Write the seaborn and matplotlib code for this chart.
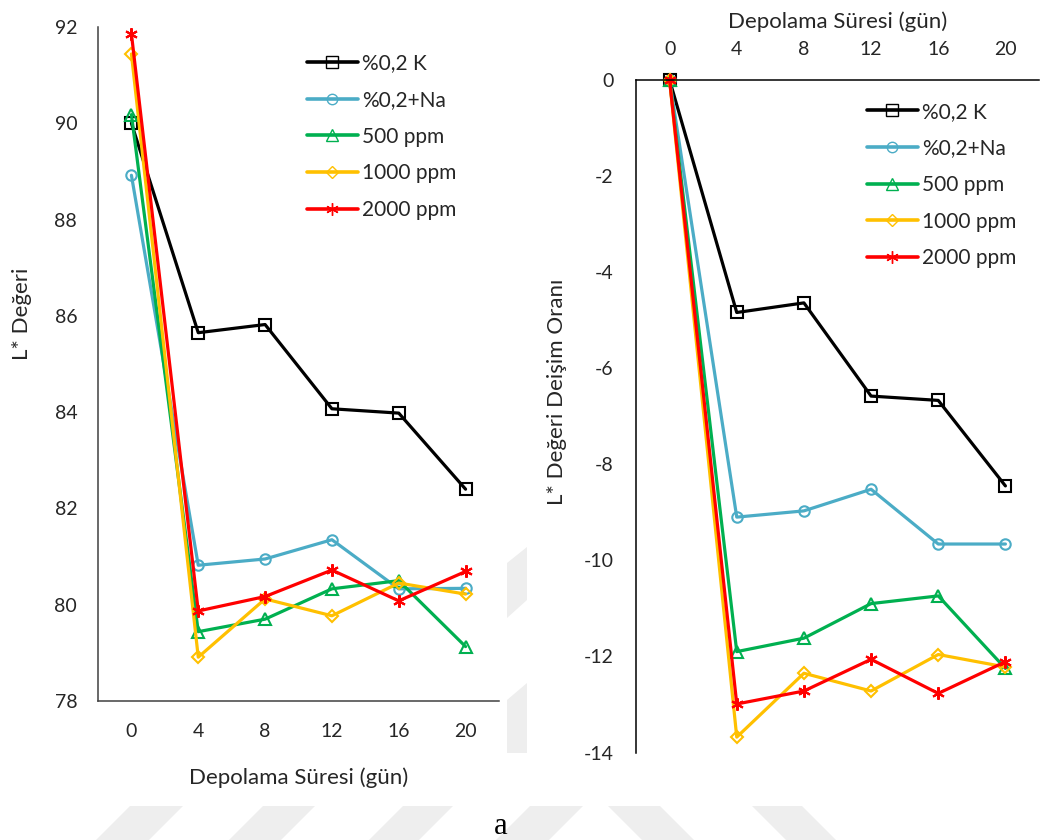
import matplotlib
matplotlib.use("Agg")
import matplotlib.pyplot as plt
from matplotlib.patches import Polygon
from matplotlib.lines import Line2D
import seaborn as sns

# Storage time (days)
days = [0, 4, 8, 12, 16, 20]
series_names = ["%0,2 K", "%0,2+Na", "500 ppm", "1000 ppm", "2000 ppm"]

# L* values
l_k = [90.0, 85.65, 85.82, 84.07, 83.98, 82.40]
l_na = [88.92, 80.82, 80.95, 81.35, 80.33, 80.34]
l_500 = [90.18, 79.44, 79.70, 80.33, 80.50, 79.13]
l_1000 = [91.44, 78.91, 80.12, 79.77, 80.45, 80.22]
l_2000 = [91.86, 79.87, 80.17, 80.72, 80.08, 80.69]

# Change ratio of L* values (%)
d_k = [0.0, -4.84, -4.64, -6.58, -6.67, -8.45]
d_na = [0.0, -9.10, -8.97, -8.52, -9.66, -9.66]
d_500 = [0.0, -11.90, -11.62, -10.90, -10.74, -12.25]
d_1000 = [0.0, -13.68, -12.35, -12.72, -11.96, -12.22]
d_2000 = [0.0, -12.99, -12.72, -12.06, -12.77, -12.11]

colors = ["#000000", "#4bacc6", "#00b050", "#ffc000", "#ff0000"]
markers = ["s", "o", "^", "D", (6, 2, 0)]
msizes = [8, 7.5, 8, 6.2, 9]

sns.set_style("white")
plt.rcParams["font.family"] = ["Lato", "DejaVu Sans"]
plt.rcParams["axes.unicode_minus"] = False
text_color = "#262626"

fig = plt.figure(figsize=(10.42, 8.4), dpi=100)
W, H = 1042, 840

# faint background stripes
stripe_color = "#eeeeee"
for x0, x1, lean in [(130, 183, -1), (263, 315, -1), (403, 453, -1),
                     (530, 583, -1), (608, 660, 1), (752, 802, 1)]:
    top, bot = 806, 840
    dx = 34 * lean
    pts = [(x0, H - top), (x1, H - top), (x1 + dx, H - bot), (x0 + dx, H - bot)]
    fig.add_artist(Polygon(pts, closed=True, transform=None,
                           facecolor=stripe_color, edgecolor="none", zorder=0))
for pts in [[(507, H - 563), (527, H - 547), (527, H - 600), (507, H - 618)],
            [(507, H - 700), (527, H - 683), (527, H - 753), (507, H - 753)]]:
    fig.add_artist(Polygon(pts, closed=True, transform=None,
                           facecolor=stripe_color, edgecolor="none", zorder=0))

ax1 = fig.add_axes([98 / W, 1 - 701 / H, 401 / W, 674 / H])
ax2 = fig.add_axes([636 / W, 1 - 752.5 / H, 403 / W, 672.5 / H])
for ax in (ax1, ax2):
    ax.set_facecolor("none")


def draw_series(ax, values_list):
    for name, vals, c, m, ms in zip(series_names, values_list, colors, markers, msizes):
        sns.lineplot(x=days, y=vals, ax=ax, color=c, marker=m, markersize=ms,
                     markerfacecolor="none", markeredgecolor=c, markeredgewidth=1.5,
                     linewidth=2.3, clip_on=False, legend=False)
    handles = [Line2D([], [], color=c, marker=m, markersize=ms, markerfacecolor="none",
                      markeredgecolor=c, markeredgewidth=1.0, linewidth=2.6)
               for c, m, ms in zip(colors, markers, msizes)]
    return handles


# Left panel: L* value
h1 = draw_series(ax1, [l_k, l_na, l_500, l_1000, l_2000])
ax1.set_xlim(-2, 22)
ax1.set_ylim(78, 92)
ax1.set_xticks(days)
ax1.set_yticks(range(78, 93, 2))
for s in ["top", "right"]:
    ax1.spines[s].set_visible(False)
for s in ["left", "bottom"]:
    ax1.spines[s].set_color("#404040")
    ax1.spines[s].set_linewidth(1.1)
ax1.tick_params(axis="both", length=0, labelsize=14, labelcolor=text_color)
ax1.tick_params(axis="y", pad=15)
ax1.tick_params(axis="x", pad=16)
ax1.set_xlabel("Depolama Süresi (gün)", fontsize=16, color=text_color)
ax1.set_ylabel("L* Değeri", fontsize=16, color=text_color)
ax1.xaxis.set_label_coords(0.5, -0.099)
ax1.yaxis.set_label_coords(-0.165, 0.574)
ax1.legend(h1, series_names, loc="upper left", bbox_to_anchor=(0.521, 0.961),
           frameon=False, fontsize=15, handlelength=2.45, handletextpad=0.2,
           labelspacing=0.8, borderpad=0, borderaxespad=0, labelcolor=text_color)

# Right panel: change ratio of L*
h2 = draw_series(ax2, [d_k, d_na, d_500, d_1000, d_2000])
ax2.set_xlim(-2, 22)
ax2.set_ylim(-14, 0)
ax2.set_xticks(days)
ax2.set_yticks(range(-14, 1, 2))
ax2.xaxis.tick_top()
ax2.xaxis.set_label_position("top")
for s in ["bottom", "right"]:
    ax2.spines[s].set_visible(False)
for s in ["left", "top"]:
    ax2.spines[s].set_color("#000000")
    ax2.spines[s].set_linewidth(1.1)
ax2.tick_params(axis="both", length=0, labelsize=14, labelcolor=text_color)
ax2.tick_params(axis="y", pad=16)
ax2.tick_params(axis="x", pad=16)
ax2.set_xlabel("Depolama Süresi (gün)", fontsize=16, color=text_color)
ax2.set_ylabel("L* Değeri Deişim Oranı", fontsize=16, color=text_color)
ax2.xaxis.set_label_coords(0.5, 1.077)
ax2.yaxis.set_label_coords(-0.171, 0.536)
ax2.legend(h2, series_names, loc="upper left", bbox_to_anchor=(0.572, 0.9676),
           frameon=False, fontsize=15, handlelength=2.45, handletextpad=0.2,
           labelspacing=0.8, borderpad=0, borderaxespad=0, labelcolor=text_color)

fig.text(501 / W, 1 - 826 / H, "a", fontsize=22, family="Liberation Serif",
         ha="center", va="center", color="#000000")

fig.savefig("out.png", dpi=100)
